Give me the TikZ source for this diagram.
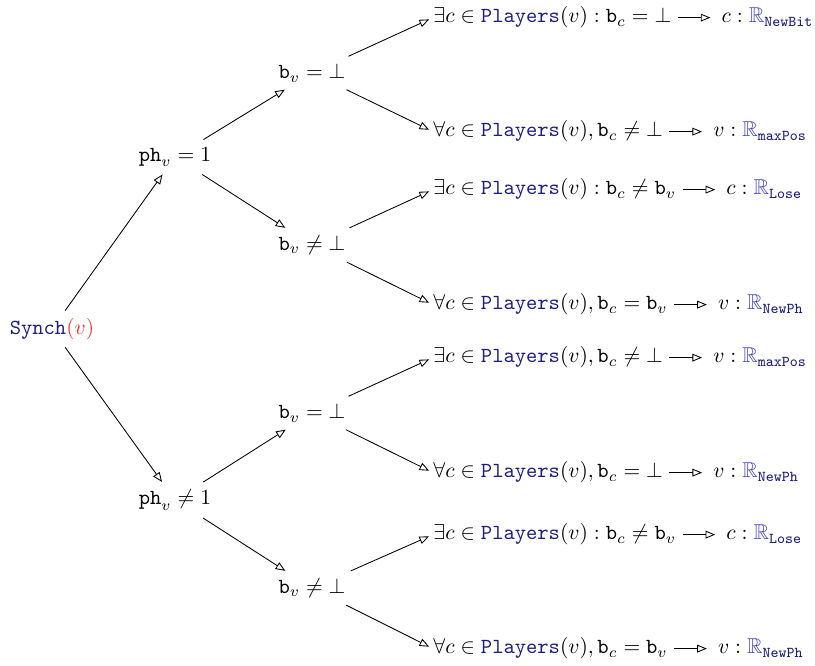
\documentclass[tikz,border=0pt]{standalone}
\usepackage{amssymb}
\usetikzlibrary{arrows.meta}
\definecolor{dkblue}{RGB}{30,30,128}
\definecolor{ltblue}{RGB}{70,70,200}
\definecolor{myred}{RGB}{255,50,50}
\newcommand{\tn}[1]{\textcolor{dkblue}{\mathtt{#1}}}
\newcommand{\Pl}{\tn{Players}}
\newcommand{\RR}[1]{\textcolor{ltblue}{\mathbb{R}}_{\tn{#1}}}
\begin{document}
\begin{tikzpicture}[x=0.465pt,y=-0.465pt,
  arr/.style={-{Triangle[open,length=4.5pt,width=3.6pt]},line width=0.4pt},
  inner/.style={inner sep=0.3333em},
  lefttxt/.style={anchor=base west,inner sep=0pt},
  righttxt/.style={anchor=base west,inner sep=0pt},
  leafarr/.style={arr,shorten >=2pt}]
\useasboundingbox (0,0) rectangle (815,666);
% inner nodes
\node[inner] (syn) at (52,329) {$\tn{Synch}\textcolor{myred}{(v)}$};
\node[inner] (p1) at (175,157) {$\mathtt{ph}_v = 1$};
\node[inner] (p2) at (175,500) {$\mathtt{ph}_v \neq 1$};
\node[inner] (b1) at (312,73) {$\mathtt{b}_v = \bot$};
\node[inner] (b2) at (312,245) {$\mathtt{b}_v \neq \bot$};
\node[inner] (b3) at (312,413) {$\mathtt{b}_v = \bot$};
\node[inner] (b4) at (312,588) {$\mathtt{b}_v \neq \bot$};
% leaves: condition part
\node[lefttxt] (l1) at (433,23) {$\exists c \in \Pl(v) : \mathtt{b}_c = \bot$};
\node[lefttxt] (l2) at (433,137) {$\forall c \in \Pl(v), \mathtt{b}_c \neq \bot$};
\node[lefttxt] (l3) at (433,195) {$\exists c \in \Pl(v) : \mathtt{b}_c \neq \mathtt{b}_v$};
\node[lefttxt] (l4) at (433,310) {$\forall c \in \Pl(v), \mathtt{b}_c = \mathtt{b}_v$};
\node[lefttxt] (l5) at (433,363) {$\exists c \in \Pl(v), \mathtt{b}_c \neq \bot$};
\node[lefttxt] (l6) at (433,478) {$\forall c \in \Pl(v), \mathtt{b}_c = \bot$};
\node[lefttxt] (l7) at (433,540) {$\exists c \in \Pl(v) : \mathtt{b}_c \neq \mathtt{b}_v$};
\node[lefttxt] (l8) at (433,654) {$\forall c \in \Pl(v), \mathtt{b}_c = \mathtt{b}_v$};
% leaves: result part
\node[righttxt] (r1) at ([xshift=23pt]l1.base east) {$c : \RR{NewBit}$};
\node[righttxt] (r2) at ([xshift=23pt]l2.base east) {$v : \RR{maxPos}$};
\node[righttxt] (r3) at ([xshift=23pt]l3.base east) {$c : \RR{Lose}$};
\node[righttxt] (r4) at ([xshift=23pt]l4.base east) {$v : \RR{NewPh}$};
\node[righttxt] (r5) at ([xshift=23pt]l5.base east) {$v : \RR{maxPos}$};
\node[righttxt] (r6) at ([xshift=23pt]l6.base east) {$v : \RR{NewPh}$};
\node[righttxt] (r7) at ([xshift=23pt]l7.base east) {$c : \RR{Lose}$};
\node[righttxt] (r8) at ([xshift=23pt]l8.base east) {$v : \RR{NewPh}$};
% tree edges
\draw[arr] (syn) -- (p1);
\draw[arr] (syn) -- (p2);
\draw[arr] (p1) -- (b1);
\draw[arr] (p1) -- (b2);
\draw[arr] (p2) -- (b3);
\draw[arr] (p2) -- (b4);
\draw[leafarr] (b1) -- (l1.west);
\draw[leafarr] (b1) -- (l2.west);
\draw[leafarr] (b2) -- (l3.west);
\draw[leafarr] (b2) -- (l4.west);
\draw[leafarr] (b3) -- (l5.west);
\draw[leafarr] (b3) -- (l6.west);
\draw[leafarr] (b4) -- (l7.west);
\draw[leafarr] (b4) -- (l8.west);
% implication arrows
\foreach \i in {1,...,8}{
  \draw[arr] ([shift={(2.8pt,2.5pt)}]l\i.base east) -- ([shift={(-5pt,2.5pt)}]r\i.base west);
}
\end{tikzpicture}
\end{document}
